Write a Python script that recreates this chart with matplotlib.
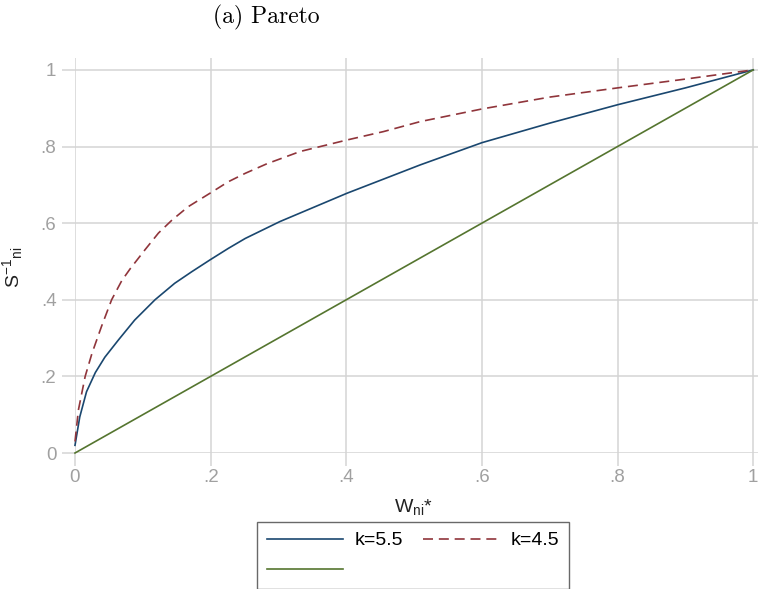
import matplotlib
matplotlib.use("Agg")
import matplotlib.pyplot as plt

# values
x_k55 = [0, 0.007, 0.017, 0.03, 0.044, 0.064, 0.088, 0.118, 0.147, 0.172,
         0.199, 0.226, 0.251, 0.302, 0.401, 0.455, 0.509, 0.6, 0.7, 0.8,
         0.9, 1.0]
y_k55 = [0.02, 0.094, 0.16, 0.21, 0.25, 0.295, 0.347, 0.40, 0.443, 0.473,
         0.504, 0.534, 0.560, 0.604, 0.678, 0.715, 0.752, 0.81, 0.861, 0.909,
         0.953, 1.0]

x_k45 = [0, 0.005, 0.015, 0.025, 0.039, 0.054, 0.069, 0.081, 0.103, 0.123,
         0.143, 0.167, 0.199, 0.226, 0.251, 0.283, 0.332, 0.401, 0.455, 0.509,
         0.6, 0.7, 0.8, 0.9, 1.0]
y_k45 = [0.03, 0.112, 0.2, 0.26, 0.33, 0.40, 0.45, 0.48, 0.530, 0.574,
         0.608, 0.643, 0.678, 0.708, 0.730, 0.755, 0.787, 0.817, 0.839, 0.865,
         0.898, 0.929, 0.953, 0.976, 1.0]

x_diag = [0, 1]
y_diag = [0, 1]

ticks = [0, 0.2, 0.4, 0.6, 0.8, 1.0]
tick_labels = ['0', '.2', '.4', '.6', '.8', '1']

plt.rcParams['font.family'] = ['Liberation Sans', 'DejaVu Sans']
plt.rcParams['mathtext.fontset'] = 'custom'
plt.rcParams['mathtext.rm'] = 'Liberation Sans'
plt.rcParams['mathtext.it'] = 'Liberation Sans'

navy = '#1a476f'
maroon = '#90353b'
green = '#55752f'
grid_c = '#d4d4d4'
tick_c = '#a0a0a0'

fig = plt.figure(figsize=(7.58, 5.89), dpi=100)
W, H = 758, 589
ax = fig.add_axes([75 / W, 1 - 453 / H, 683 / W, 395 / H])
ax.set_xlim(0, 1.007)
ax.set_ylim(0, 1.031)

l1, = ax.plot(x_k55, y_k55, color=navy, lw=1.2, clip_on=False, zorder=3)
l2, = ax.plot(x_k45, y_k45, color=maroon, lw=1.2, dashes=(6, 3.5),
              clip_on=False, zorder=3)
l3, = ax.plot(x_diag, y_diag, color=green, lw=1.2, clip_on=False, zorder=3)

ax.set_xticks(ticks)
ax.set_xticklabels(tick_labels)
ax.set_yticks(ticks)
ax.set_yticklabels(tick_labels)
ax.grid(True, color=grid_c, lw=1.1)
ax.set_axisbelow(True)
for s in ax.spines.values():
    s.set_visible(False)
ax.tick_params(axis='both', length=9.4, width=1.1, color=grid_c,
               labelcolor=tick_c, labelsize=13.5)
ax.tick_params(axis='y', pad=4)
ax.tick_params(axis='x', pad=2)

ax.set_ylabel(r'$\mathrm{S}^{-1}{}_{\mathrm{ni}}$', fontsize=14, color='#222222')
ax.yaxis.set_label_coords(-50 / 683, 0.47)
ax.set_xlabel(r'$\mathrm{W}_{\mathrm{ni}}$*', fontsize=14, color='#222222')
ax.xaxis.set_label_coords((413 - 75) / 683, -(497 - 453) / 395)

leg = fig.legend([l1, l3, l2], ['k=5.5', '', 'k=4.5'], ncol=2,
                 loc='upper center', bbox_to_anchor=(413 / W, 1 - 522 / H),
                 borderaxespad=0, fontsize=14, frameon=True, fancybox=False,
                 edgecolor='#444444', handlelength=3.9, handletextpad=0.6,
                 columnspacing=1.0, labelspacing=0.65, borderpad=0.5)
leg.get_frame().set_linewidth(1.0)

fig.text(213 / W, 1 - 17 / H, '(a) Pareto', family='cmr10', fontsize=17,
         va='center', ha='left')

fig.savefig('out.png', dpi=100)
